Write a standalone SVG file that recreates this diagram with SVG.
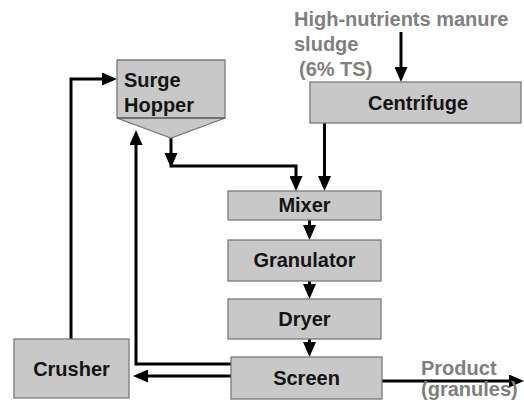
<svg xmlns="http://www.w3.org/2000/svg" width="524" height="404" viewBox="0 0 524 404">
<defs>
<style>
.box{fill:#c8c8c8;stroke:#7a7a7a;stroke-width:1.3}
.t{font-family:"Liberation Sans",Arial,sans-serif;font-weight:bold;font-size:20px;fill:#141414}
.tc{text-anchor:middle}
.g{font-family:"Liberation Sans",Arial,sans-serif;font-weight:bold;font-size:20px;fill:#7f7f7f}
.c{fill:none;stroke:#000;stroke-width:3}
</style>
<marker id="ah" markerUnits="userSpaceOnUse" markerWidth="15" markerHeight="13" refX="11" refY="6.5" orient="auto">
<path d="M0,0 L15,6.5 L0,13 z" fill="#000"/>
</marker>
</defs>
<rect width="524" height="404" fill="#fff"/>
<g id="connectors">
<path class="c" d="M401,32 V78" marker-end="url(#ah)"/>
<path class="c" d="M324.5,123 V187" marker-end="url(#ah)"/>
<path class="c" d="M171,138 V166 H296 V187" marker-end="url(#ah)"/>
<polygon points="164.5,153 177.5,153 171,168" fill="#000"/>
<path class="c" d="M309.5,220 V236" marker-end="url(#ah)"/>
<path class="c" d="M309.5,281 V295" marker-end="url(#ah)"/>
<path class="c" d="M309.5,339 V353" marker-end="url(#ah)"/>
<path class="c" d="M382,381 H520" marker-end="url(#ah)"/>
<path class="c" d="M231,376 H137" marker-end="url(#ah)"/>
<path class="c" d="M231,364 H136 V134" marker-end="url(#ah)"/>
<path class="c" d="M71,339 V79 H113" marker-end="url(#ah)"/>
</g>
<g id="sludge-label">
<text class="g" x="294" y="26">High-nutrients manure</text>
<text class="g" x="294" y="51">sludge</text>
<text class="g" x="299" y="76">(6% TS)</text>
</g>
<g id="surge-hopper">
<polygon class="box" points="117,60 225,60 225,118 171,138 117,118"/>
<line x1="117" y1="118" x2="225" y2="118" stroke="#555" stroke-width="1.3"/>
<text class="t" x="124" y="87">Surge</text>
<text class="t" x="124" y="112">Hopper</text>
</g>
<g id="centrifuge">
<rect class="box" x="310" y="82" width="211" height="41"/>
<text class="t tc" x="418" y="110">Centrifuge</text>
</g>
<g id="mixer">
<rect class="box" x="228" y="191" width="153" height="29"/>
<text class="t tc" x="304.5" y="212">Mixer</text>
</g>
<g id="granulator">
<rect class="box" x="228" y="240" width="153" height="41"/>
<text class="t tc" x="304.5" y="267">Granulator</text>
</g>
<g id="dryer">
<rect class="box" x="228" y="299" width="153" height="40"/>
<text class="t tc" x="304.5" y="326">Dryer</text>
</g>
<g id="screen">
<rect class="box" x="231" y="357" width="151" height="42"/>
<text class="t tc" x="306.5" y="385">Screen</text>
</g>
<g id="crusher">
<rect class="box" x="14" y="339" width="115" height="59"/>
<text class="t tc" x="71.5" y="376">Crusher</text>
</g>
<g id="product-label">
<text class="g" x="421" y="375">Product</text>
<text class="g" x="421" y="396">(granules)</text>
</g>
</svg>
